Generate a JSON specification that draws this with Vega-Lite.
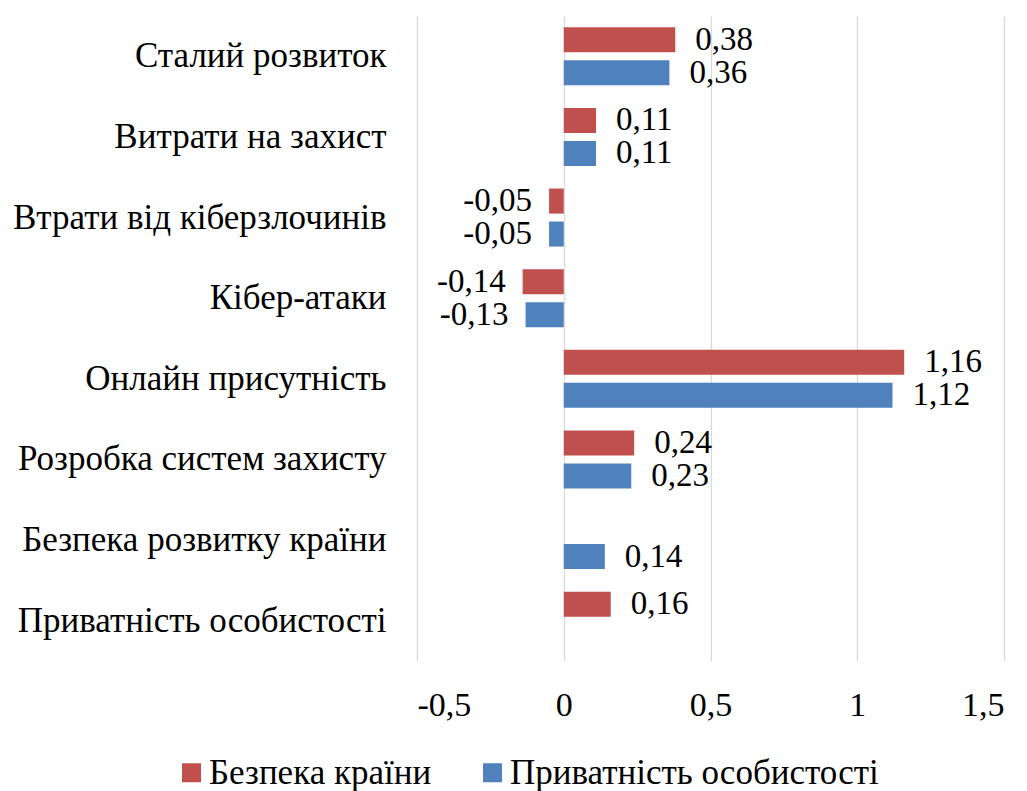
{
  "$schema": "https://vega.github.io/schema/vega-lite/v6.json",
  "width": 587,
  "height": 645,
  "autosize": {"type": "none"},
  "padding": {"left": 417, "top": 16, "right": 23, "bottom": 130},
  "background": "white",
  "config": {
    "view": {"stroke": null},
    "font": "Liberation Serif",
    "locale": {"number": {"decimal": ",", "thousands": " ", "grouping": [3], "currency": ["", ""], "minus": "-"}}
  },
  "data": {
    "values": [
      {"category": "Сталий розвиток", "series": "Безпека країни", "value": 0.38},
      {"category": "Сталий розвиток", "series": "Приватність особистості", "value": 0.36},
      {"category": "Витрати на захист", "series": "Безпека країни", "value": 0.11},
      {"category": "Витрати на захист", "series": "Приватність особистості", "value": 0.11},
      {"category": "Втрати від кіберзлочинів", "series": "Безпека країни", "value": -0.05},
      {"category": "Втрати від кіберзлочинів", "series": "Приватність особистості", "value": -0.05},
      {"category": "Кібер-атаки", "series": "Безпека країни", "value": -0.14},
      {"category": "Кібер-атаки", "series": "Приватність особистості", "value": -0.13},
      {"category": "Онлайн присутність", "series": "Безпека країни", "value": 1.16},
      {"category": "Онлайн присутність", "series": "Приватність особистості", "value": 1.12},
      {"category": "Розробка систем захисту", "series": "Безпека країни", "value": 0.24},
      {"category": "Розробка систем захисту", "series": "Приватність особистості", "value": 0.23},
      {"category": "Безпека розвитку країни", "series": "Приватність особистості", "value": 0.14},
      {"category": "Приватність особистості", "series": "Безпека країни", "value": 0.16}
    ]
  },
  "encoding": {
    "y": {
      "field": "category",
      "type": "nominal",
      "sort": null,
      "scale": {"domain": ["Сталий розвиток", "Витрати на захист", "Втрати від кіберзлочинів", "Кібер-атаки", "Онлайн присутність", "Розробка систем захисту", "Безпека розвитку країни", "Приватність особистості"], "paddingInner": 0.28, "paddingOuter": 0.14},
      "axis": {"title": null, "domain": false, "ticks": false, "labelFontSize": 35, "labelColor": "#000000", "labelPadding": 31, "labelLimit": 500, "labelFont": "Liberation Serif"}
    },
    "yOffset": {
      "field": "series",
      "type": "nominal",
      "scale": {"domain": ["Безпека країни", "Приватність особистості"], "paddingInner": 0.24, "paddingOuter": 0}
    },
    "x": {
      "field": "value",
      "type": "quantitative",
      "scale": {"domain": [-0.5, 1.5], "nice": false, "zero": false},
      "axis": {"title": null, "values": [-0.5, 0, 0.5, 1, 1.5], "format": ".1~f", "domain": false, "ticks": false, "grid": true, "gridColor": "#d9d9d9", "gridWidth": 1.3, "labelFontSize": 34, "labelColor": "#000000", "labelPadding": 27, "labelFont": "Liberation Serif"}
    }
  },
  "layer": [
    {
      "mark": {"type": "bar"},
      "encoding": {
        "color": {
          "field": "series",
          "type": "nominal",
          "scale": {"domain": ["Безпека країни", "Приватність особистості"], "range": ["#C0504D", "#4F81BD"]},
          "legend": {
            "title": null,
            "orient": "none",
            "direction": "horizontal",
            "legendX": -243,
            "legendY": 739,
            "symbolType": "square",
            "symbolSize": 361,
            "symbolStrokeWidth": 0,
            "labelFontSize": 35,
            "labelColor": "#000000",
            "labelFont": "Liberation Serif",
            "labelLimit": 600,
            "columnPadding": 43,
            "labelOffset": 0
          }
        }
      }
    },
    {
      "transform": [{"filter": "datum.value >= 0"}],
      "mark": {"type": "text", "align": "left", "baseline": "middle", "dx": 20, "fontSize": 33, "color": "#000000", "font": "Liberation Serif"},
      "encoding": {"text": {"field": "value", "type": "quantitative", "format": ".2f"}}
    },
    {
      "transform": [{"filter": "datum.value < 0"}],
      "mark": {"type": "text", "align": "right", "baseline": "middle", "dx": -17, "fontSize": 33, "color": "#000000", "font": "Liberation Serif"},
      "encoding": {"text": {"field": "value", "type": "quantitative", "format": ".2f"}}
    }
  ]
}
